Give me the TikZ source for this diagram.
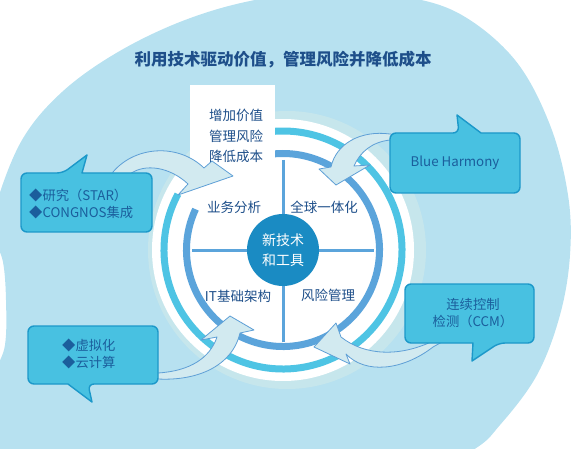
\documentclass[tikz,border=0pt]{standalone}
\usepackage{fontspec}
\setmainfont{Noto Sans CJK SC}
\definecolor{blobblue}{HTML}{B7E1F0}
\definecolor{halo}{HTML}{C6E6EC}
\definecolor{ringcyan}{HTML}{4EC4E4}
\definecolor{ringblue}{HTML}{5BA4DB}
\definecolor{hubblue}{HTML}{1A8BC3}
\definecolor{boxfill}{HTML}{48C1E1}
\definecolor{boxline}{HTML}{1C98C9}
\definecolor{navy}{HTML}{1E4F8A}
\definecolor{boxtext}{HTML}{1B5E9C}
\definecolor{arrowfill}{HTML}{D2EAF0}
\definecolor{arrowline}{HTML}{5E9FD6}

\begin{document}
\begin{tikzpicture}[x=1pt,y=-1pt,
  callout/.style={draw=boxline,fill=boxfill,line width=1.4pt,line join=round},
  bent/.style={draw=arrowline,fill=arrowfill,line width=0.8pt,line join=round},
  lbl/.style={text=navy,font=\fontsize{13.5}{20.5}\selectfont,inner sep=0pt,align=center},
  boxtxt/.style={text=boxtext,font=\fontsize{13.3}{17}\selectfont,inner sep=0pt}]
  \useasboundingbox (0,0) rectangle (573,449);
  % background blob
  \begin{scope}
    \clip (0,0) rectangle (573,449);
    \fill[blobblue] plot[smooth cycle,tension=0.6] coordinates {
      (-4,205) (22,140) (62,92) (118,52) (185,20) (255,0) (330,-8) (400,-4)
      (460,14) (515,60) (550,125) (568,195) (570,255) (560,315) (537,375)
      (500,425) (470,452) (380,500) (150,500) (-20,470) (-6,380) (5,345)
      (6,300) (3,262) (-6,235)};
  \end{scope}
  \node[font=\fontsize{16.5}{20}\selectfont\bfseries,text=navy] (title) at (283,60)
    {利用技术驱动价值，管理风险并降低成本};
  % wheel
  \fill[halo] (287,250) circle[radius=139];
  \fill[white] (283,250) circle[radius=131];
  \draw[ringcyan,line width=7pt] (283,250) ++(-152:119) arc[start angle=-152,end angle=-456,radius=119];
  \draw[ringblue,line width=7pt] (283,250) ++(-155:96.5) arc[start angle=-155,end angle=-456,radius=96.5];
  \fill[white] (190,85) rectangle (275,196);
  \coordinate (west) at (192,251); \coordinate (east) at (374,251);
  \coordinate (north) at (283,160); \coordinate (south) at (283,342);
  \draw[ringblue,line width=3pt] (west) -- (east) (north) -- (south);
  \node[circle,fill=hubblue,minimum size=72pt,inner sep=0pt,text=white,
    font=\fontsize{14}{20}\selectfont,align=center] (hub) at (283,250) {新技术\\和工具};
  % curved arrows
  \draw[bent] (110,182) -- (113,172) .. controls (135,146) and (178,143) .. (204,168)
    -- (212,161) -- (233,176) -- (178,195) -- (188,184)
    .. controls (170,167) and (145,163) .. (130,174) -- (128,182) -- cycle;
  \draw[bent] (398,135) -- (390,134) .. controls (360,130) and (336,144) .. (331,167)
    -- (319,169) -- (336,185) -- (370,165) -- (354,166)
    .. controls (360,152) and (372,142) .. (390,140) -- (398,142) -- cycle;
  \draw[bent] (150,373) -- (158,373) .. controls (190,371) and (210,358) .. (217,337)
    -- (201,340) -- (230,316) -- (254,330) -- (240,333)
    .. controls (232,367) and (196,381) .. (158,379) -- (150,379) -- cycle;
  \draw[bent] (440,337) -- (433,341) .. controls (400,357) and (365,356) .. (341,337)
    -- (336,323) -- (314,347) -- (350,364) -- (346,354)
    .. controls (365,374) and (402,371) .. (433,347) -- (442,342) -- cycle;
  % labels
  \node[lbl] (gains) at (236,136) {增加价值\\管理风险\\降低成本};
  \node[lbl] (biz) at (234,207) {业务分析};
  \node[lbl] (glob) at (324,207) {全球一体化};
  \node[lbl] (infra) at (238,296) {IT基础架构};
  \node[lbl] (risk) at (328,295) {风险管理};
  % callouts
  \draw[callout] (21,200) [rounded corners=6pt] -- (21,173) -- (63,173) [sharp corners]
    -- (87,155) -- (82,173) [rounded corners=6pt] -- (152,173) -- (152,232) -- (21,232) -- cycle;
  \draw[callout] (390,160) [rounded corners=6pt] -- (390,133) -- (459,133) [sharp corners]
    -- (457,115) -- (481,133) [rounded corners=6pt] -- (520,133) -- (520,193) -- (390,193) -- cycle;
  \draw[callout] (405,310) [rounded corners=6pt] -- (405,284) -- (534,284) -- (534,343)
    -- (499,343) [sharp corners] -- (472,361) -- (473,343) [rounded corners=6pt] -- (405,343) -- cycle;
  \draw[callout] (28,350) [rounded corners=6pt] -- (28,326) -- (158,326) -- (158,384)
    -- (88,384) [sharp corners] -- (92,402) -- (68,384) [rounded corners=6pt] -- (28,384) -- cycle;
  \node[boxtxt,anchor=west,align=left] (star) at (29,203.5) {◆研究（STAR）\\◆CONGNOS集成};
  \node[boxtxt] (harmony) at (455,163) {Blue Harmony};
  \node[boxtxt,align=center] (ccm) at (473,313) {连续控制\\检测（CCM）};
  \node[boxtxt,anchor=west,align=left] (cloud) at (62,354) {◆虚拟化\\◆云计算};
\end{tikzpicture}
\end{document}
